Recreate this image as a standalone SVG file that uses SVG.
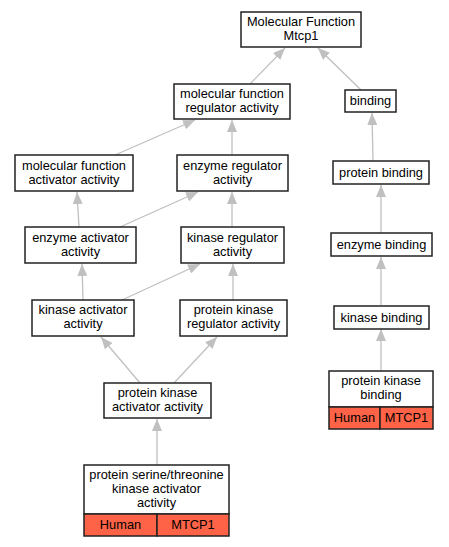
<svg xmlns="http://www.w3.org/2000/svg" width="449" height="547" viewBox="0 0 449 547">
<style>
.n{fill:#fff;stroke:#222;stroke-width:1.5}
.o{fill:#ff6347;stroke:#222;stroke-width:1.5}
text{font-family:"Liberation Sans",Arial,sans-serif;font-size:12.8px;text-anchor:middle;fill:#000}
.e{stroke:#c0c0c0;stroke-width:1.3;fill:none;marker-end:url(#a)}
</style>
<defs>
<marker id="a" viewBox="0 0 12 10" refX="12" refY="5" markerWidth="12" markerHeight="10" markerUnits="userSpaceOnUse" orient="auto">
<path d="M0,0L12,5L0,10z" fill="#c0c0c0"/>
</marker>
</defs>
<rect width="449" height="547" fill="#fff"/>
<g id="edges">
<line class="e" x1="250" y1="84" x2="285" y2="48"/>
<line class="e" x1="361" y1="90" x2="318" y2="48"/>
<line class="e" x1="115" y1="155" x2="195" y2="120"/>
<line class="e" x1="232" y1="155" x2="232" y2="120"/>
<line class="e" x1="79" y1="227" x2="77" y2="192"/>
<line class="e" x1="120" y1="227" x2="198" y2="192"/>
<line class="e" x1="232" y1="227" x2="232" y2="192"/>
<line class="e" x1="83" y1="300" x2="82" y2="264"/>
<line class="e" x1="122" y1="300" x2="200" y2="264"/>
<line class="e" x1="233" y1="300" x2="233" y2="264"/>
<line class="e" x1="140" y1="383" x2="101" y2="337"/>
<line class="e" x1="174" y1="383" x2="217" y2="337"/>
<line class="e" x1="157" y1="465" x2="157" y2="419"/>
<line class="e" x1="373" y1="161" x2="372" y2="113"/>
<line class="e" x1="381" y1="233" x2="381" y2="185"/>
<line class="e" x1="381" y1="305" x2="381" y2="257"/>
<line class="e" x1="381" y1="371" x2="381" y2="329"/>
</g>
<g id="mf"><rect class="n" x="241" y="12" width="120" height="35"/><text x="301" y="26">Molecular Function</text><text x="301" y="40">Mtcp1</text></g>
<g id="binding"><rect class="n" x="345" y="90" width="51" height="22"/><text x="370.5" y="105">binding</text></g>
<g id="mfr"><rect class="n" x="174" y="84" width="116" height="35"/><text x="232" y="98">molecular function</text><text x="232" y="112">regulator activity</text></g>
<g id="mfa"><rect class="n" x="15" y="155" width="118" height="36"/><text x="74" y="170">molecular function</text><text x="74" y="184">activator activity</text></g>
<g id="er"><rect class="n" x="177" y="155" width="111" height="36"/><text x="232.5" y="170">enzyme regulator</text><text x="232.5" y="184">activity</text></g>
<g id="ea"><rect class="n" x="25" y="227" width="111" height="36"/><text x="80.5" y="242">enzyme activator</text><text x="80.5" y="256">activity</text></g>
<g id="kr"><rect class="n" x="181" y="227" width="103" height="36"/><text x="232.5" y="242">kinase regulator</text><text x="232.5" y="256">activity</text></g>
<g id="ka"><rect class="n" x="32" y="300" width="102" height="36"/><text x="83" y="314">kinase activator</text><text x="83" y="328">activity</text></g>
<g id="pkr"><rect class="n" x="180" y="300" width="107" height="36"/><text x="233.5" y="314">protein kinase</text><text x="233.5" y="328">regulator activity</text></g>
<g id="pka"><rect class="n" x="104" y="383" width="107" height="35"/><text x="157.5" y="397">protein kinase</text><text x="157.5" y="411">activator activity</text></g>
<g id="psta"><rect class="n" x="84" y="465" width="145" height="49"/><text x="156.5" y="479">protein serine/threonine</text><text x="156.5" y="493">kinase activator</text><text x="156.5" y="507">activity</text>
<rect class="o" x="84" y="514" width="73" height="22"/><rect class="o" x="157" y="514" width="72" height="22"/><text x="120.5" y="529">Human</text><text x="193" y="529">MTCP1</text></g>
<g id="pb"><rect class="n" x="333" y="161" width="96" height="23"/><text x="381" y="177">protein binding</text></g>
<g id="eb"><rect class="n" x="331" y="233" width="101" height="23"/><text x="381.5" y="249">enzyme binding</text></g>
<g id="kb"><rect class="n" x="334" y="306" width="95" height="23"/><text x="381.5" y="322">kinase binding</text></g>
<g id="pkb"><rect class="n" x="329" y="371" width="104" height="36"/><text x="381" y="385">protein kinase</text><text x="381" y="399">binding</text>
<rect class="o" x="329" y="407" width="51" height="22"/><rect class="o" x="380" y="407" width="53" height="22"/><text x="354.5" y="422">Human</text><text x="406.5" y="422">MTCP1</text></g>
</svg>
